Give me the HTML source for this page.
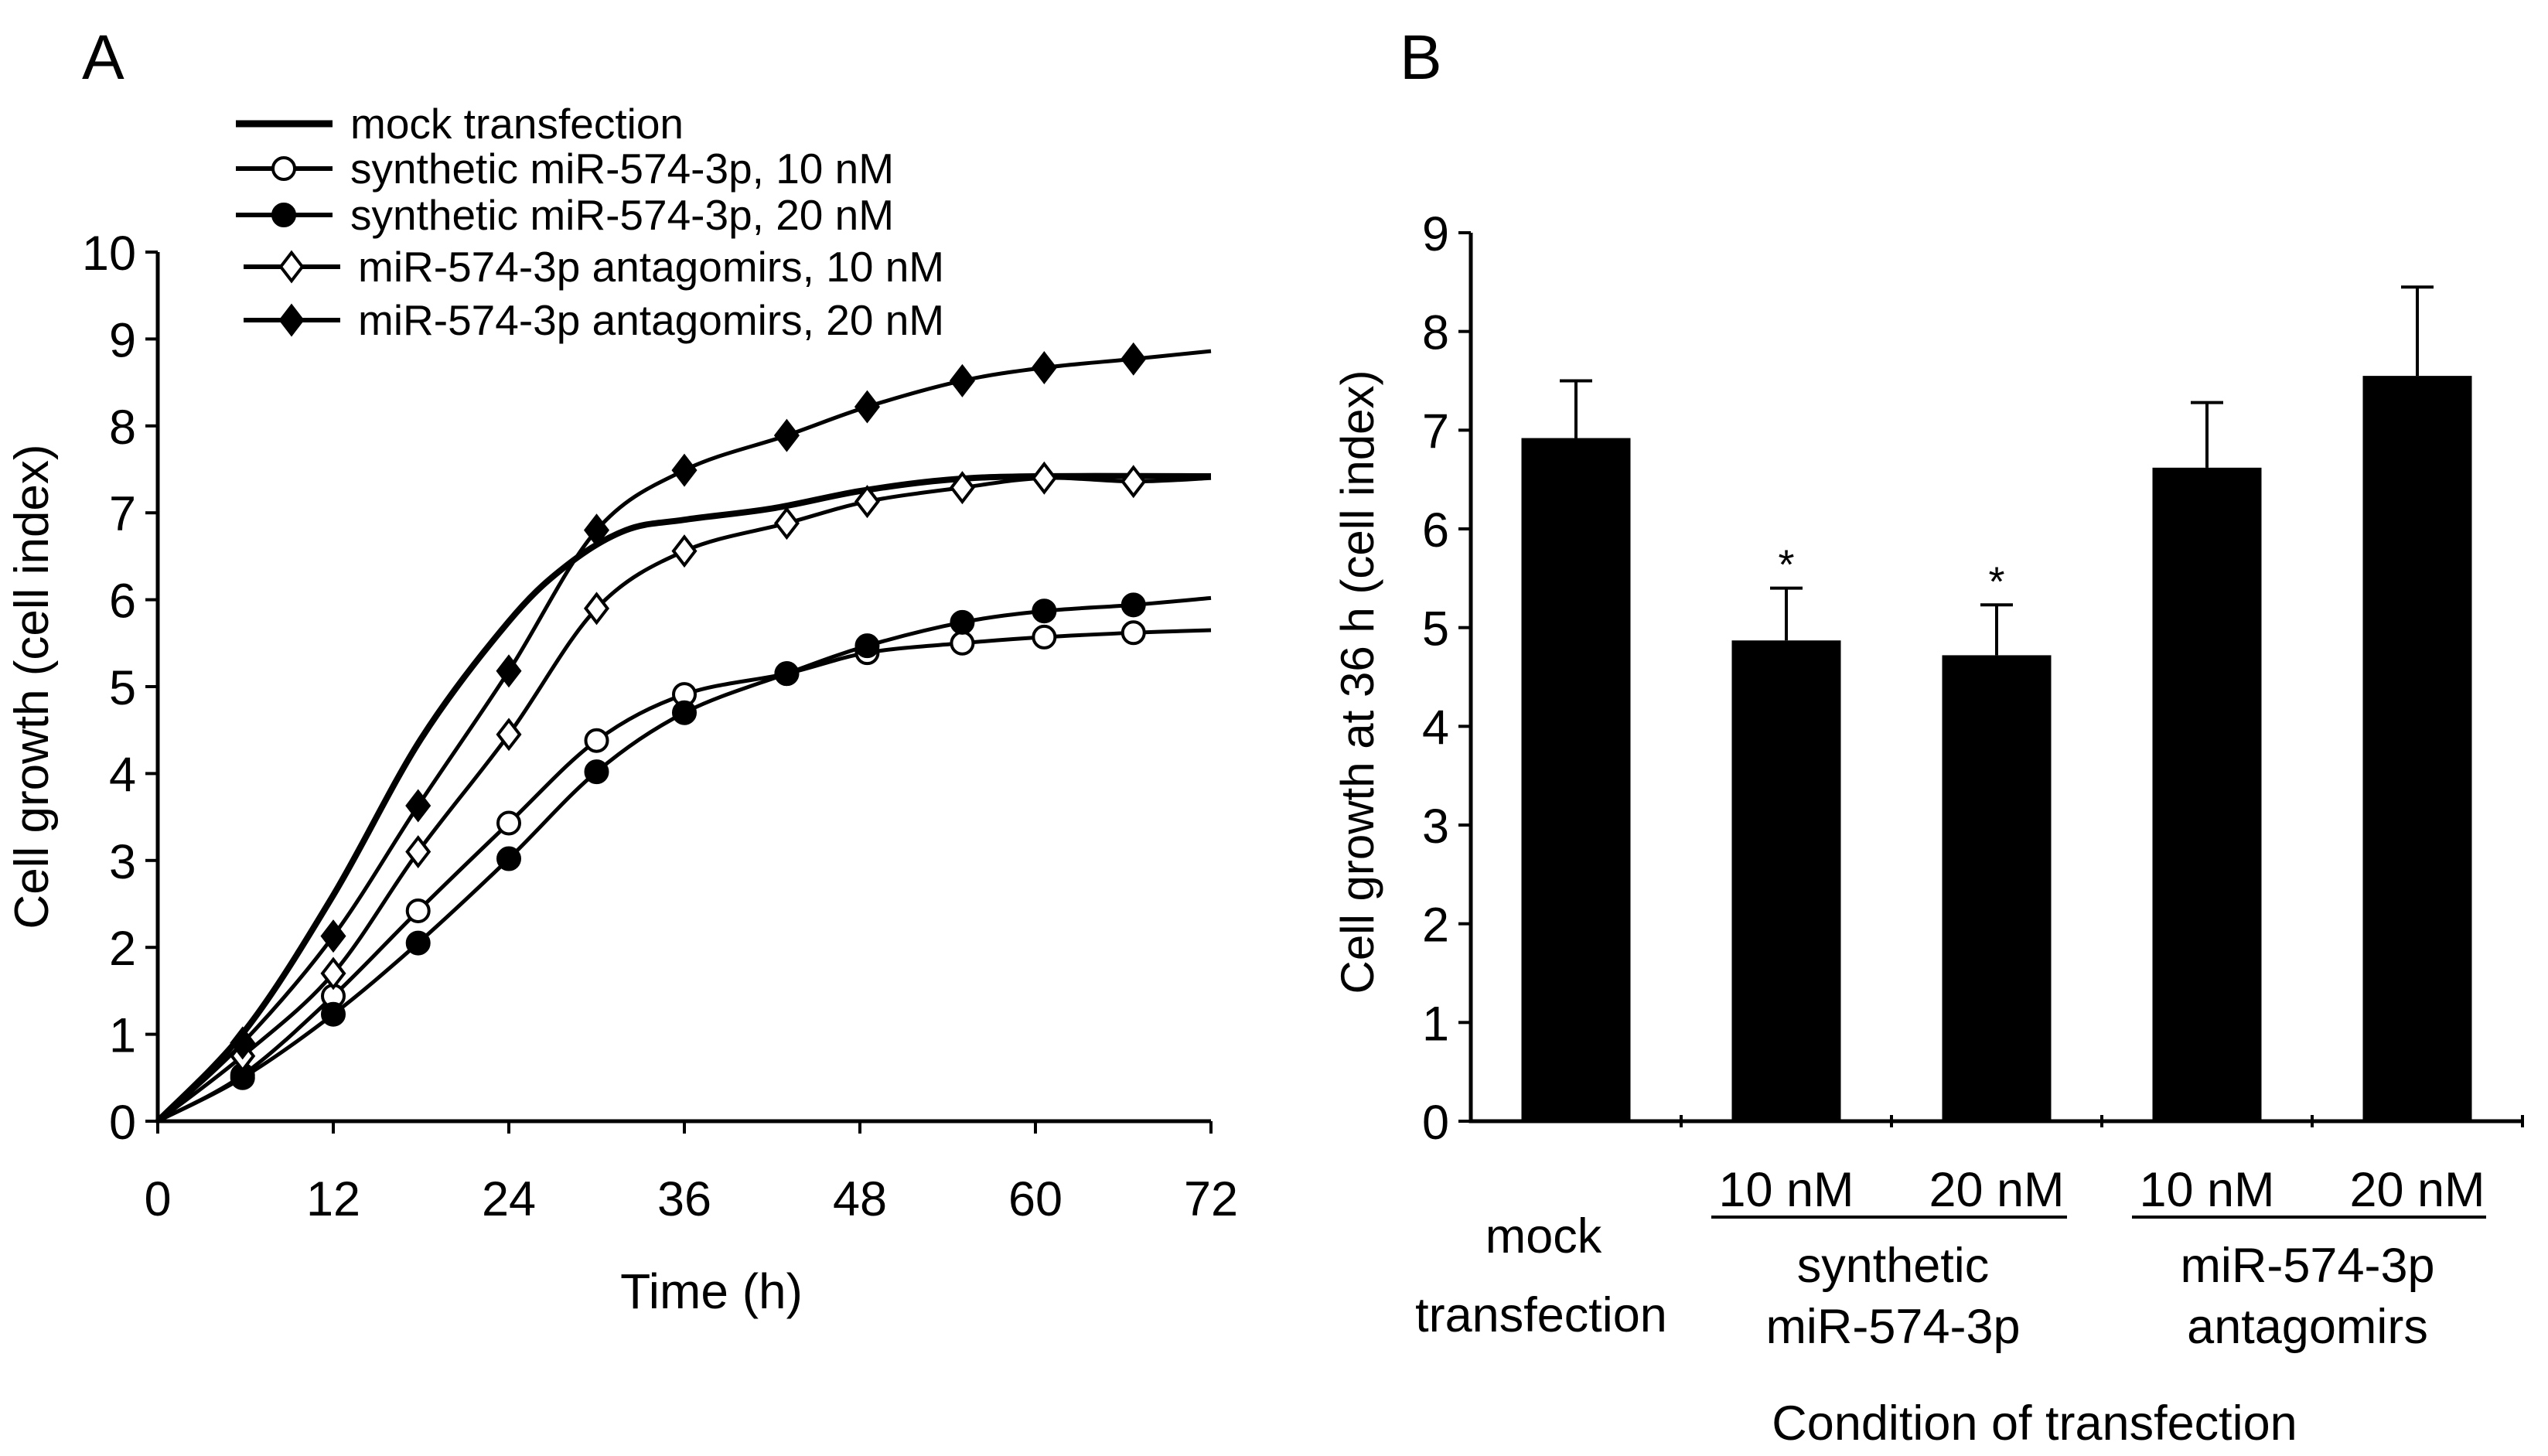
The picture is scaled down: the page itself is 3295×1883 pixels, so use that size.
<!DOCTYPE html>
<html><head><meta charset="utf-8"><style>
html,body{margin:0;padding:0;background:#fff}
svg{display:block}
text{font-family:"Liberation Sans",Arial,sans-serif;fill:#000}
</style></head><body>
<svg id="fig" width="3295" height="1883" viewBox="0 0 3295 1883" xmlns="http://www.w3.org/2000/svg">
<g id="panelA"></g>
<g id="panelB"></g>
</svg>
<script>
// ---- Panel A data ----
const hoursMock = [0, 6, 12, 18, 24, 28, 32, 36, 42, 48, 54, 60, 72];
const valuesMock = [0, 1.05, 2.6, 4.4, 5.75, 6.4, 6.8, 6.92, 7.05, 7.25, 7.38, 7.42, 7.42];
const markerHours = [0, 5.8, 12, 17.8, 24, 30, 36, 43, 48.5, 55, 60.6, 66.7, 72];
const valuesSyn10 = [0, 0.53, 1.44, 2.42, 3.43, 4.38, 4.91, 5.15, 5.39, 5.5, 5.57, 5.62, 5.65];
const valuesSyn20 = [0, 0.5, 1.23, 2.05, 3.02, 4.02, 4.7, 5.15, 5.47, 5.74, 5.87, 5.94, 6.02];
const valuesAnt10 = [0, 0.75, 1.7, 3.1, 4.45, 5.9, 6.56, 6.88, 7.13, 7.29, 7.4, 7.36, 7.4];
const valuesAnt20 = [0, 0.9, 2.13, 3.63, 5.18, 6.8, 7.49, 7.89, 8.22, 8.52, 8.67, 8.77, 8.86];
const xTicksA = [0, 12, 24, 36, 48, 60, 72];
const yTicksA = [0,1,2,3,4,5,6,7,8,9,10];
// ---- Panel B data ----
const barCategories = ["mock", "syn10", "syn20", "ant10", "ant20"];
const barValues = [6.92, 4.87, 4.72, 6.62, 7.55];
const barErrors = [0.58, 0.53, 0.51, 0.66, 0.9];
const barStars = [false, true, true, false, false];
const yTicksB = [0,1,2,3,4,5,6,7,8,9];

const NS = "http://www.w3.org/2000/svg";
function mk(parent, tag, attrs, txt){
  const e = document.createElementNS(NS, tag);
  for (const k in attrs) e.setAttribute(k, attrs[k]);
  if (txt !== undefined) e.textContent = txt;
  parent.appendChild(e); return e;
}
const A = document.getElementById('panelA');
const B = document.getElementById('panelB');

const ax0 = 204, ax1 = 1566, ay0 = 1450, ay1 = 326;
const xA = h => ax0 + (h / 72) * (ax1 - ax0);
const yA = v => ay0 - (v / 10) * (ay0 - ay1);

let t = mk(A, 'text', {x: 106, y: 102, 'font-size': 82});
t.textContent = 'A';



let axl = mk(A, 'path', {d: `M${ax0},${ay1} L${ax0},${ay0} L${ax1},${ay0}`, stroke: '#000', 'stroke-width': 5, fill: 'none'});


yTicksA.forEach(v => {
  const l = mk(A, 'line', {x1: ax0 - 16, x2: ax0, y1: yA(v), y2: yA(v), stroke: '#000', 'stroke-width': 4});
  
  
  const tx = mk(A, 'text', {x: ax0 - 28, y: yA(v) + 23, 'font-size': 63, 'text-anchor': 'end'}, String(v));
  
  
});
xTicksA.forEach(v => {
  const l = mk(A, 'line', {x1: xA(v), x2: xA(v), y1: ay0, y2: ay0 + 16, stroke: '#000', 'stroke-width': 4});
  
  
  const tx = mk(A, 'text', {x: xA(v), y: ay0 + 122, 'font-size': 63, 'text-anchor': 'middle'}, String(v));
  
  
});
t = mk(A, 'text', {x: 920, y: 1692, 'font-size': 64, 'text-anchor': 'middle'}, 'Time (h)');


t = mk(A, 'text', {x: 0, y: 0, 'font-size': 62, 'text-anchor': 'middle', transform: `translate(62,888) rotate(-90)`}, 'Cell growth (cell index)');



function smoothPath(xs, ys){
  const P = xs.map((h,i) => [xA(h), yA(ys[i])]);
  let d = `M${P[0][0]},${P[0][1]}`;
  for (let i = 0; i < P.length - 1; i++){
    const p0 = P[i-1] || P[i], p1 = P[i], p2 = P[i+1], p3 = P[i+2] || P[i+1];
    const c1 = [p1[0] + (p2[0]-p0[0])/6, p1[1] + (p2[1]-p0[1])/6];
    const c2 = [p2[0] - (p3[0]-p1[0])/6, p2[1] - (p3[1]-p1[1])/6];
    d += ` C${c1[0]},${c1[1]} ${c2[0]},${c2[1]} ${p2[0]},${p2[1]}`;
  }
  return d;
}
function marker(g, cx, cy, type, r){
  let e;
  if (type === 'circle-open' || type === 'circle-filled')
    e = mk(g, 'circle', {cx, cy, r, fill: type === 'circle-open' ? '#fff' : '#000', stroke: '#000', 'stroke-width': 4});
  else
    e = mk(g, 'polygon', {points: `${cx},${cy-r*1.3} ${cx+r},${cy} ${cx},${cy+r*1.3} ${cx-r},${cy}`, fill: type === 'diamond-open' ? '#fff' : '#000', stroke: '#000', 'stroke-width': 4});
  return e;
}
const series = [
  {name: 'series-mock', xs: hoursMock, ys: valuesMock, m: null, w: 8},
  {name: 'series-synthetic-10nm', xs: markerHours, ys: valuesSyn10, m: 'circle-open', w: 5},
  {name: 'series-synthetic-20nm', xs: markerHours, ys: valuesSyn20, m: 'circle-filled', w: 5},
  {name: 'series-antagomirs-10nm', xs: markerHours, ys: valuesAnt10, m: 'diamond-open', w: 5},
  {name: 'series-antagomirs-20nm', xs: markerHours, ys: valuesAnt20, m: 'diamond-filled', w: 5}
];
series.forEach(s => {
  const g = mk(A, 'g', {});
  
  
  const p = mk(g, 'path', {d: smoothPath(s.xs, s.ys), stroke: '#000', 'stroke-width': s.w, fill: 'none'});
  
  
  if (s.m) s.xs.forEach((h, i) => {
    if (i === 0 || i === s.xs.length - 1) return;
    const e = marker(g, xA(h), yA(s.ys[i]), s.m, 14);
    
    
  });
});
const legendLabels = ['mock transfection', 'synthetic miR-574-3p, 10 nM', 'synthetic miR-574-3p, 20 nM', 'miR-574-3p antagomirs, 10 nM', 'miR-574-3p antagomirs, 20 nM'];
const legendY = [160, 218, 278, 345, 414];
const legendM = [null, 'circle-open', 'circle-filled', 'diamond-open', 'diamond-filled'];
legendLabels.forEach((lab, i) => {
  const g = mk(A, 'g', {});
  
  
  const x0 = i < 3 ? 305 : 315;
  mk(g, 'line', {x1: x0, x2: x0 + 125, y1: legendY[i], y2: legendY[i], stroke: '#000', 'stroke-width': i === 0 ? 9 : 6});
  if (legendM[i]) marker(g, x0 + 62, legendY[i], legendM[i], 14);
  mk(g, 'text', {x: x0 + 148, y: legendY[i] + 19, 'font-size': 55}, lab);
});

// ---- Panel B ----
const bx0 = 1902, bx1 = 3262, by0 = 1450, by9 = 301;
const cw = (bx1 - bx0) / barCategories.length;
const yB = v => by0 - (v / 9) * (by0 - by9);
t = mk(B, 'text', {x: 1810, y: 102, 'font-size': 82}, 'B');


axl = mk(B, 'path', {d: `M${bx0},${yB(9)} L${bx0},${by0} L${bx1},${by0}`, stroke: '#000', 'stroke-width': 5, fill: 'none'});


yTicksB.forEach(v => {
  const l = mk(B, 'line', {x1: bx0 - 16, x2: bx0, y1: yB(v), y2: yB(v), stroke: '#000', 'stroke-width': 4});
  
  
  const tx = mk(B, 'text', {x: bx0 - 28, y: yB(v) + 23, 'font-size': 63, 'text-anchor': 'end'}, String(v));
  
  
});
for (let i = 1; i <= barCategories.length; i++){
  const l = mk(B, 'line', {x1: bx0 + i*cw, x2: bx0 + i*cw, y1: by0 - 8, y2: by0 + 8, stroke: '#000', 'stroke-width': 4});
  
  
}
barCategories.forEach((c, i) => {
  const cx = bx0 + (i + 0.5) * cw, bw = 141;
  const r = mk(B, 'rect', {x: cx - bw/2, y: yB(barValues[i]), width: bw, height: by0 - yB(barValues[i]), fill: '#000'});
  
  
  const top = yB(barValues[i] + barErrors[i]);
  const e = mk(B, 'path', {d: `M${cx},${yB(barValues[i])} L${cx},${top} M${cx-21},${top} L${cx+21},${top}`, stroke: '#000', 'stroke-width': 4, fill: 'none'});
  
  
  if (barStars[i]){
    const s = mk(B, 'text', {x: cx, y: top - 12, 'font-size': 54, 'text-anchor': 'middle'}, '*');
    
    
  }
  if (i > 0){
    const tx = mk(B, 'text', {x: cx, y: 1560, 'font-size': 63, 'text-anchor': 'middle'}, i % 2 ? '10 nM' : '20 nM');
    
    
  }
});
function lbl(x, y, s, name){
  const tx = mk(B, 'text', {x, y, 'font-size': 63, 'text-anchor': 'middle'}, s);
  
  
}
const u1 = mk(B, 'line', {x1: 2213, x2: 2673, y1: 1574, y2: 1574, stroke: '#000', 'stroke-width': 4});


const u2 = mk(B, 'line', {x1: 2757, x2: 3215, y1: 1574, y2: 1574, stroke: '#000', 'stroke-width': 4});


lbl(1996, 1620, 'mock', 'category-label-mock');
lbl(1993, 1722, 'transfection', 'category-label-mock');
lbl(2448, 1658, 'synthetic', 'group-label-synthetic');
lbl(2448, 1737, 'miR-574-3p', 'group-label-synthetic');
lbl(2984, 1658, 'miR-574-3p', 'group-label-antagomirs');
lbl(2984, 1737, 'antagomirs', 'group-label-antagomirs');
lbl(2631, 1862, 'Condition of transfection', 'x-axis-title-b');
t = mk(B, 'text', {x: 0, y: 0, 'font-size': 60, 'text-anchor': 'middle', transform: `translate(1776,882) rotate(-90)`}, 'Cell growth at 36 h (cell index)');


</script>
</body></html>
